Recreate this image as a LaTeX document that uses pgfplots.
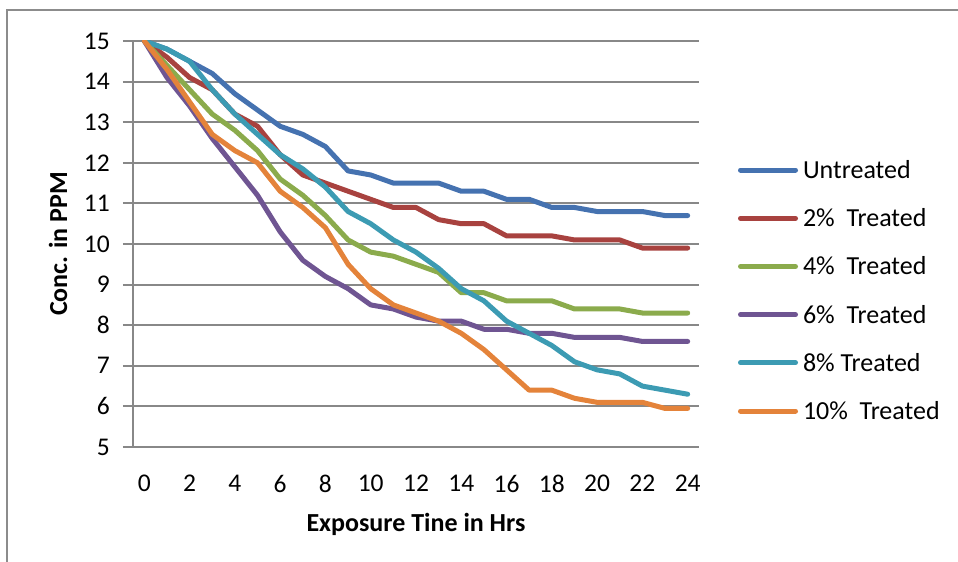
\documentclass[border=0pt]{standalone}
\usepackage{fontspec}
\setmainfont{Carlito}
\usepackage{pgfplots}
\usepackage{pgfplotstable}
\pgfplotsset{compat=1.18}
\definecolor{cBlue}{HTML}{4572B0}
\definecolor{cRed}{HTML}{A8423F}
\definecolor{cGreen}{HTML}{8BAB4C}
\definecolor{cPurple}{HTML}{6F5592}
\definecolor{cCyan}{HTML}{3C9BB3}
\definecolor{cOrange}{HTML}{E4833A}
\definecolor{gridgray}{HTML}{888888}
\definecolor{framegray}{HTML}{8C8C8C}
\newcommand\tickfont{\fontsize{25.5bp}{30bp}\selectfont}
\newcommand\legfont{\fontsize{26bp}{31bp}\selectfont}
\newcommand\labfont{\fontsize{26bp}{31bp}\selectfont\bfseries}

\pgfplotstableread{
h  un    t2    t4    t6    t8    t10
0  15.0  15.0  15.0  15.0  15.0  15.0
1  14.8  14.6  14.4  14.1  14.8  14.3
2  14.5  14.1  13.8  13.4  14.5  13.5
3  14.2  13.8  13.2  12.6  13.8  12.7
4  13.7  13.2  12.8  11.9  13.2  12.3
5  13.3  12.9  12.3  11.2  12.7  12.0
6  12.9  12.2  11.6  10.3  12.2  11.3
7  12.7  11.7  11.2  9.6   11.85 10.9
8  12.4  11.5  10.7  9.2   11.4  10.4
9  11.8  11.3  10.1  8.9   10.8  9.5
10 11.7  11.1  9.8   8.5   10.5  8.9
11 11.5  10.9  9.7   8.4   10.1  8.5
12 11.5  10.9  9.5   8.2   9.8   8.3
13 11.5  10.6  9.3   8.1   9.4   8.1
14 11.3  10.5  8.8   8.1   8.9   7.8
15 11.3  10.5  8.8   7.9   8.6   7.4
16 11.1  10.2  8.6   7.9   8.1   6.9
17 11.1  10.2  8.6   7.8   7.8   6.4
18 10.9  10.2  8.6   7.8   7.5   6.4
19 10.9  10.1  8.4   7.7   7.1   6.2
20 10.8  10.1  8.4   7.7   6.9   6.1
21 10.8  10.1  8.4   7.7   6.8   6.1
22 10.8  9.9   8.3   7.6   6.5   6.1
23 10.7  9.9   8.3   7.6   6.4   5.95
24 10.7  9.9   8.3   7.6   6.3   5.95
}\datatable

\begin{document}
\begin{tikzpicture}
\path[use as bounding box] (-133bp,-115bp) rectangle (825bp,447bp);
\draw[draw=framegray, line width=1.5bp] (-126bp,-115bp) -- (-126bp,437bp) -- (825bp,437bp);
\begin{axis}[
  scale only axis, width=566bp, height=406bp,
  xmin=-0.5, xmax=24.5, ymin=5, ymax=15,
  xtick={0,2,...,24}, ytick={5,6,...,15},
  axis x line*=bottom, axis y line*=left,
  axis line style={-, draw=gridgray, line width=2bp},
  ymajorgrids, major grid style={draw=gridgray, line width=2bp},
  tick align=outside, major tick length=10bp,
  xtick style={draw=none},
  ytick style={draw=gridgray, line width=2bp},
  ticklabel style={font=\tickfont},
  /pgf/number format/assume math mode=true,
  xticklabel style={anchor=north, inner sep=0pt, yshift=-18bp},
  yticklabel style={anchor=east, inner sep=0pt, xshift=-13bp},
  xlabel={Exposure Tine in Hrs}, ylabel={Conc. in PPM},
  xlabel style={font=\labfont, at={(axis description cs:0.5,-0.1897)}, anchor=center},
  ylabel style={font=\labfont, at={(axis description cs:-0.1325,0.5)}, anchor=center},
  every axis plot/.append style={line width=5bp, line join=round, line cap=round},
  legend image code/.code={\draw[#1, line cap=round] (0bp,0bp) -- (55bp,0bp);},
  legend cell align=left,
  legend style={at={(0,0)}, anchor=north west, xshift=605bp, yshift=289.6bp,
    draw=none, fill=none, inner sep=0pt, outer sep=0pt, row sep=22.9bp, column sep=5bp,
    font=\legfont, nodes={inner sep=0pt, outer sep=0pt, text height=21bp, text depth=4.3bp}},
]
\addplot[cBlue] table[x=h, y=un] {\datatable};
\addlegendentry{Untreated}
\addplot[cRed] table[x=h, y=t2] {\datatable};
\addlegendentry{2\%\ \ Treated}
\addplot[cGreen] table[x=h, y=t4] {\datatable};
\addlegendentry{4\%\ \ Treated}
\addplot[cPurple] table[x=h, y=t6] {\datatable};
\addlegendentry{6\%\ \ Treated}
\addplot[cCyan] table[x=h, y=t8] {\datatable};
\addlegendentry{8\% Treated}
\addplot[cOrange] table[x=h, y=t10] {\datatable};
\addlegendentry{10\%\ \ Treated}
\end{axis}
\end{tikzpicture}
\end{document}
